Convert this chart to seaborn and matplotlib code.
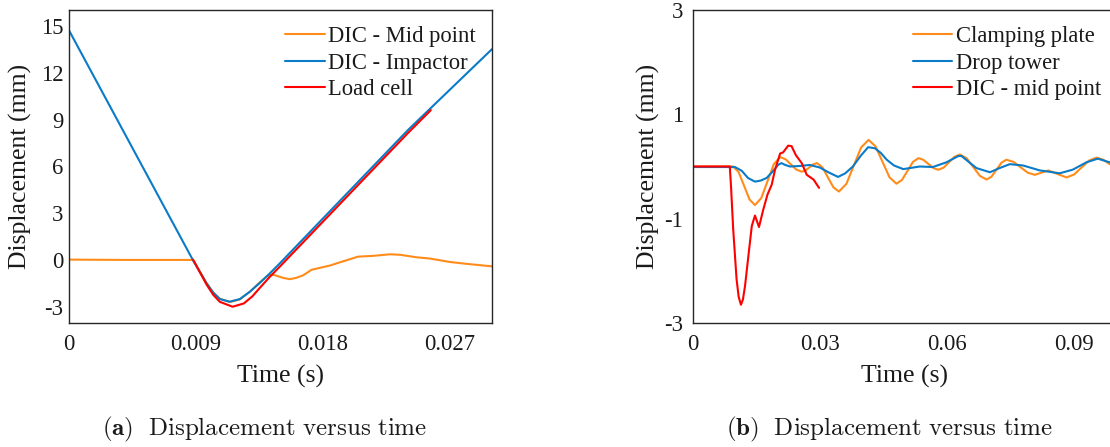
import numpy as np
import pandas as pd
import matplotlib
matplotlib.use("Agg")
import matplotlib.pyplot as plt
import seaborn as sns

# ---------------- data: panel (a) ----------------
a_mid_t = [0, 0.004, 0.0088, 0.00976, 0.01023, 0.0107, 0.0114, 0.0121, 0.01283, 0.01354,
           0.0140, 0.01424, 0.0145, 0.01472, 0.0152, 0.01566, 0.0161, 0.01661, 0.0172,
           0.0185, 0.01944, 0.0205, 0.02157, 0.02275, 0.02346, 0.02464, 0.02559, 0.027,
           0.02819, 0.030]
a_mid_v = [0.05, 0.03, 0.03, -1.45, -2.05, -2.45, -2.66, -2.5, -2.0, -1.4,
           -1.05, -0.93, -0.92, -0.98, -1.12, -1.2, -1.12, -0.95, -0.6,
           -0.33, -0.06, 0.24, 0.29, 0.39, 0.36, 0.2, 0.12, -0.1,
           -0.22, -0.38]

a_imp_t = [0, 0.0088, 0.00976, 0.01023, 0.0107, 0.0114, 0.01212, 0.01283, 0.01354,
           0.01424, 0.01495, 0.02405, 0.030]
a_imp_v = [14.7, 0.0, -1.47, -2.06, -2.47, -2.64, -2.47, -2.0, -1.43,
           -0.83, -0.19, 8.34, 13.5]

a_lc_t = [0.0088, 0.00976, 0.01023, 0.0107, 0.0116, 0.0124, 0.0130, 0.01354, 0.01424,
          0.01495, 0.02405, 0.02566]
a_lc_v = [0.05, -1.55, -2.2, -2.65, -2.96, -2.75, -2.3, -1.75, -1.05,
          -0.4, 8.15, 9.6]

a_labels = ["DIC - Mid point", "DIC - Impactor", "Load cell"]

# ---------------- data: panel (b) ----------------
b_cp_t = [0, 0.0095, 0.01079, 0.01208, 0.01336, 0.01465, 0.01614, 0.01763, 0.01911,
          0.0206, 0.02188, 0.02315, 0.02443, 0.0257, 0.0266, 0.0275, 0.0284, 0.0293,
          0.0306, 0.0319, 0.0332, 0.0345, 0.03625, 0.038, 0.03975, 0.0415, 0.04315,
          0.0448, 0.04645, 0.0481, 0.0494, 0.0507, 0.052, 0.0533, 0.05448, 0.05565,
          0.05683, 0.058, 0.05928, 0.06055, 0.06183, 0.0631, 0.06468, 0.06625, 0.06783,
          0.0694, 0.07058, 0.07175, 0.07293, 0.0741, 0.07578, 0.07745, 0.07913, 0.0808,
          0.0824, 0.084, 0.08615, 0.0883, 0.09008, 0.09185, 0.09363, 0.0954, 0.0970,
          0.0985, 0.1]
b_cp_v = [0, 0, -0.108, -0.37, -0.632, -0.74, -0.605, -0.28, 0.045,
          0.18, 0.139, 0.04, -0.059, -0.10, -0.076, -0.018, 0.041, 0.065,
          -0.015, -0.21, -0.40, -0.48, -0.335, 0.015, 0.365, 0.51, 0.387,
          0.09, -0.207, -0.33, -0.258, -0.085, 0.088, 0.16, 0.127, 0.049,
          -0.030, -0.063, -0.020, 0.084, 0.187, 0.23, 0.16, -0.01, -0.18,
          -0.25, -0.194, -0.06, 0.074, 0.13, 0.088, -0.015, -0.118, -0.16,
          -0.118, -0.075, -0.143, -0.21, -0.154, -0.02, 0.114, 0.17, 0.13,
          0.045, -0.01]

b_dt_t = [0, 0.0099, 0.0115, 0.013, 0.01465, 0.016, 0.0174, 0.0188, 0.0201, 0.0209,
          0.0218, 0.0229, 0.0253, 0.0276, 0.030, 0.032, 0.0343, 0.036, 0.0378, 0.0396,
          0.0414, 0.043, 0.0444, 0.0458, 0.0475, 0.0497, 0.0536, 0.0567, 0.0599, 0.0627,
          0.0635, 0.065, 0.067, 0.0702, 0.0725, 0.0749, 0.078, 0.082, 0.0867, 0.0898,
          0.093, 0.0957, 0.0985, 0.1]
b_dt_v = [-0.01, -0.01, -0.08, -0.22, -0.29, -0.27, -0.22, -0.1, 0.03, 0.065,
          0.03, 0.0, 0.01, 0.03, -0.02, -0.11, -0.2, -0.13, 0.0, 0.2,
          0.37, 0.35, 0.26, 0.13, 0.02, -0.05, 0.0, -0.01, 0.08, 0.2,
          0.2, 0.1, -0.03, -0.11, -0.03, 0.045, 0.02, -0.075, -0.13, -0.06,
          0.08, 0.15, 0.08, 0.05]

b_dic_t = [0, 0.004, 0.0087, 0.0090, 0.0095, 0.0103, 0.0108, 0.01134, 0.0118, 0.0123,
           0.0131, 0.0139, 0.01465, 0.0156, 0.0166, 0.0176, 0.0186, 0.0194, 0.0206,
           0.0213, 0.0225, 0.0233, 0.0243, 0.0257, 0.0269, 0.0285, 0.0298]
b_dic_v = [0, 0, 0, -0.4, -1.2, -2.16, -2.5, -2.65, -2.55, -2.29,
           -1.71, -1.14, -0.94, -1.16, -0.83, -0.54, -0.35, -0.06, 0.25,
           0.27, 0.4, 0.39, 0.22, 0.065, -0.16, -0.25, -0.41]

b_labels = ["Clamping plate", "Drop tower", "DIC - mid point"]

a_xticks = [0, 0.009, 0.018, 0.027]
a_xticklabels = ["0", "0.009", "0.018", "0.027"]
a_yticks = [-3, 0, 3, 6, 9, 12, 15]
b_xticks = [0, 0.03, 0.06, 0.09]
b_xticklabels = ["0", "0.03", "0.06", "0.09"]
b_yticks = [-3, -1, 1, 3]

ORANGE = "#FF8C1A"
BLUE = "#0A7BC8"
RED = "#FF0000"

# ---------------- style ----------------
sns.set_theme(style="white")
plt.rcParams["font.family"] = ["Liberation Serif", "DejaVu Serif"]
plt.rcParams["mathtext.fontset"] = "cm"
plt.rcParams["axes.unicode_minus"] = False

FS = 16.3
FL = 18.5
TXT = "#1a1a1a"

fig = plt.figure(figsize=(11.1, 4.47), dpi=100)
W, H = 1110.0, 447.0
axA = fig.add_axes([69 / W, 1 - 323 / H, 423 / W, 313 / H])
axB = fig.add_axes([693 / W, 1 - 323 / H, 423 / W, 313 / H])


def long_df(ts, vs, labels):
    frames = []
    for t, v, lab in zip(ts, vs, labels):
        frames.append(pd.DataFrame({"t": t, "v": v, "series": lab}))
    return pd.concat(frames, ignore_index=True)


dfA = long_df([a_mid_t, a_imp_t, a_lc_t], [a_mid_v, a_imp_v, a_lc_v], a_labels)
dfB = long_df([b_cp_t, b_dt_t, b_dic_t], [b_cp_v, b_dt_v, b_dic_v], b_labels)

sns.lineplot(data=dfA, x="t", y="v", hue="series", hue_order=a_labels,
             palette=[ORANGE, BLUE, RED], sort=False, estimator=None,
             linewidth=1.5, ax=axA)
sns.lineplot(data=dfB, x="t", y="v", hue="series", hue_order=b_labels,
             palette=[ORANGE, BLUE, RED], sort=False, estimator=None,
             linewidth=1.5, ax=axB)

for ax in (axA, axB):
    for spine in ax.spines.values():
        spine.set_color("#262626")
        spine.set_linewidth(1.0)
    ax.tick_params(direction="in", length=4, width=0.8, color="#262626",
                   labelsize=FS, labelcolor=TXT)
    ax.set_xlabel("Time (s)", fontsize=FL, color=TXT)
    ax.set_ylabel("Displacement (mm)", fontsize=FL, color=TXT)
    ax.xaxis.set_label_coords(0.5, -0.135)

axA.set_xlim(0, 0.030)
axA.set_ylim(-4, 16)
axA.set_xticks(a_xticks)
axA.set_xticklabels(a_xticklabels)
axA.set_yticks(a_yticks)
axA.set_yticklabels([str(v) for v in a_yticks])
axA.tick_params(axis="x", pad=8)
axA.tick_params(axis="y", pad=4)
axA.yaxis.set_label_coords(-0.088, 0.5)

axB.set_xlim(0, 0.1)
axB.set_ylim(-3, 3)
axB.set_xticks(b_xticks)
axB.set_xticklabels(b_xticklabels)
axB.set_yticks(b_yticks)
axB.set_yticklabels([str(v) for v in b_yticks])
axB.tick_params(axis="x", pad=8)
axB.tick_params(axis="y", pad=7)
axB.yaxis.set_label_coords(-0.078, 0.5)

for ax, anchor in ((axA, (1.0, 1.0)), (axB, (1.002, 1.0))):
    h, l = ax.get_legend_handles_labels()
    leg = ax.legend(h, l, loc="upper right", bbox_to_anchor=anchor, frameon=False,
                    fontsize=FS, handlelength=1.75, handletextpad=0.15,
                    labelspacing=0.25, borderaxespad=0.3)
    for t in leg.get_texts():
        t.set_color(TXT)

fig.text(265 / W, 1 - 429 / H,
         r"$\mathbf{(a)}\ \ \mathrm{Displacement\ versus\ time}$",
         ha="center", va="center", fontsize=18, color=TXT)
fig.text(889 / W, 1 - 429 / H,
         r"$\mathbf{(b)}\ \ \mathrm{Displacement\ versus\ time}$",
         ha="center", va="center", fontsize=18, color=TXT)

fig.savefig("out.png", dpi=100)
